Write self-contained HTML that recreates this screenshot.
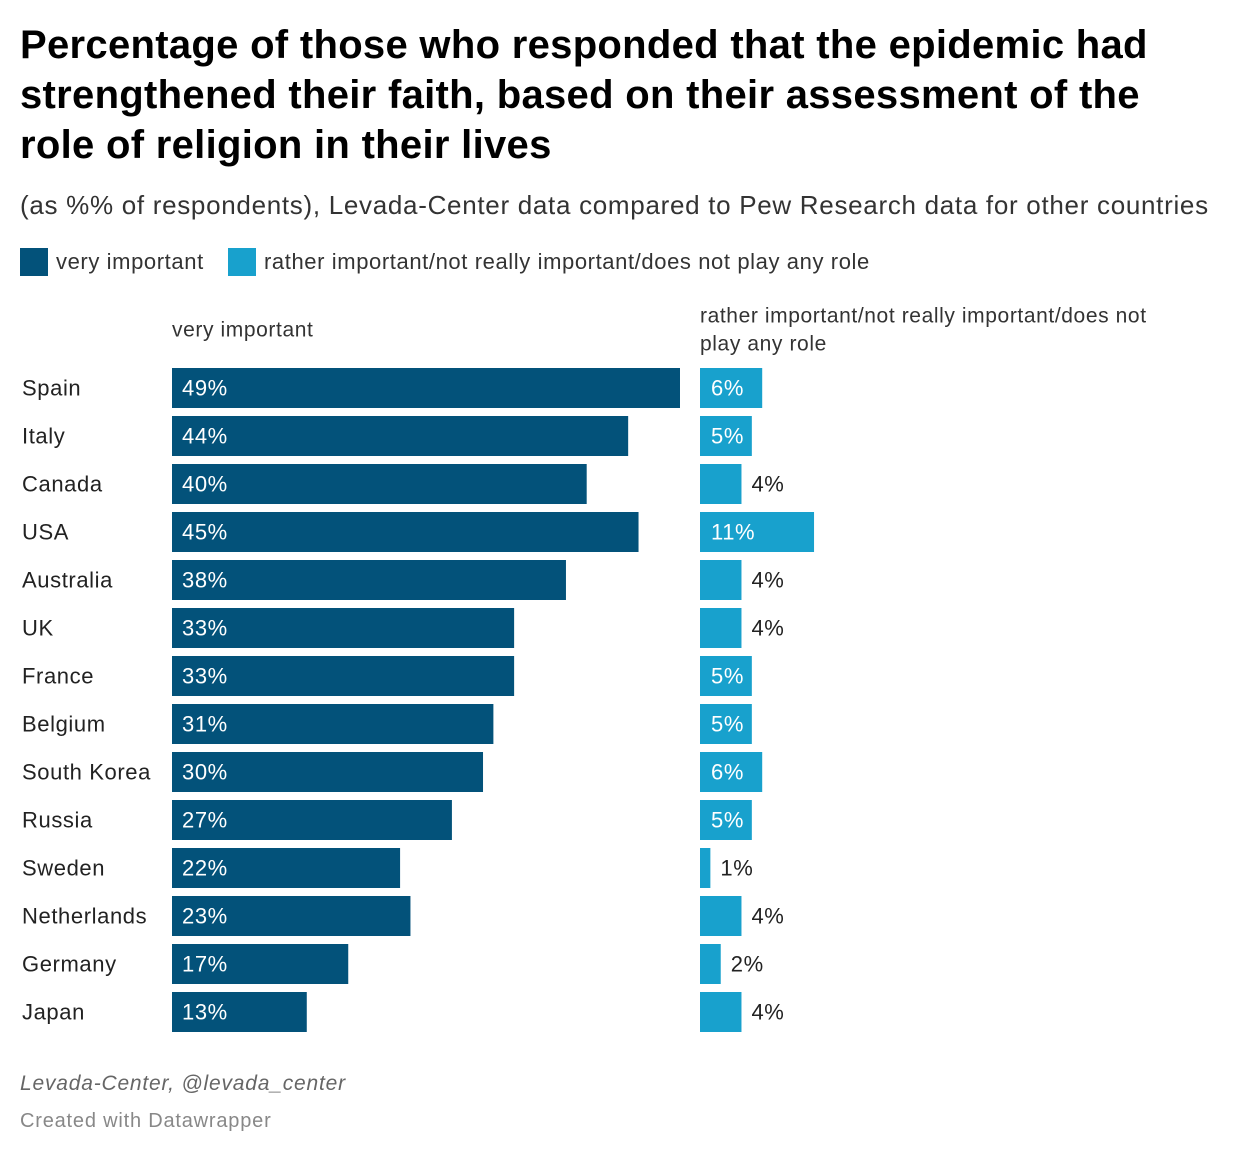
<!DOCTYPE html>
<html><head><meta charset="utf-8">
<style>
body{margin:0;background:#fff;font-family:"Liberation Sans",Arial,sans-serif;color:#1d1d1d;}
#wrap{position:relative;width:1240px;height:1156px;overflow:hidden;}
h1{position:absolute;left:20px;top:20px;margin:0;font-size:40px;line-height:50px;font-weight:bold;color:#000;width:1160px;letter-spacing:0.3px}
.sub{position:absolute;left:20px;top:190px;font-size:26px;color:#333;white-space:nowrap;letter-spacing:0.7px}
.leg{position:absolute;top:248px;font-size:22px;color:#333;display:flex;align-items:center;white-space:nowrap;letter-spacing:0.6px}
.sw{width:28px;height:28px;margin-right:8px}
.foot{position:absolute;left:20px;font-size:21px;color:#666;letter-spacing:0.8px}
svg text{letter-spacing:0.6px}
</style></head><body>
<div id="wrap">
<h1>Percentage of those who responded that the epidemic had strengthened their faith, based on their assessment of the role of religion in their lives</h1>
<div class="sub">(as %% of respondents), Levada-Center data compared to Pew Research data for other countries</div>
<div class="leg" style="left:20px"><div class="sw" style="background:#03527a"></div>very important</div>
<div class="leg" style="left:228px"><div class="sw" style="background:#18a1cd"></div>rather important/not really important/does not play any role</div>
<svg id="svg" width="1240" height="1156" style="position:absolute;left:0;top:0"></svg>
<div class="foot" style="top:1072px;font-style:italic">Levada-Center, @levada_center</div>
<div class="foot" style="top:1110px;font-size:20px;color:#888">Created with Datawrapper</div>
</div>
<script>
const countries=["Spain","Italy","Canada","USA","Australia","UK","France","Belgium","South Korea","Russia","Sweden","Netherlands","Germany","Japan"];
const veryImportant=[49,44,40,45,38,33,33,31,30,27,22,23,17,13];
const otherImportant=[6,5,4,11,4,4,5,5,6,5,1,4,2,4];
const svg=document.getElementById('svg');
const NS='http://www.w3.org/2000/svg';
const scale=508/49;
function x1(v){return v*scale;}
function y(i){return 368+i*48;}
function mk(t,a){const e=document.createElementNS(NS,t);for(const k in a)e.setAttribute(k,a[k]);svg.appendChild(e);return e;}
function txt(x,yy,s,fill,size){const e=mk('text',{x:x,y:yy,fill:fill,'font-size':size||22,'font-family':'Liberation Sans, Arial, sans-serif','dominant-baseline':'central'});e.textContent=s;return e;}
let h=txt(172,330,'very important','#333',21);


let h2=txt(700,316,'rather important/not really important/does not','#333',21);


let h3=txt(700,344,'play any role','#333',21);


countries.forEach((c,i)=>{
  const cy=y(i)+20;
  let l=txt(22,cy,c,'#222',22);
  
  
  const w1=x1(veryImportant[i]);
  let b=mk('rect',{x:172,y:y(i),width:w1,height:40,fill:'#03527a'});
  
  
  let v=txt(182,cy,veryImportant[i]+'%','#fff',22);
  
  
  const w2=x1(otherImportant[i]);
  let b2=mk('rect',{x:700,y:y(i),width:w2,height:40,fill:'#18a1cd'});
  
  
  const inside=otherImportant[i]>=5;
  let v2=txt(inside?711:700+w2+10,cy,otherImportant[i]+'%',inside?'#fff':'#222',22);
  
  
});
</script>
</body></html>
